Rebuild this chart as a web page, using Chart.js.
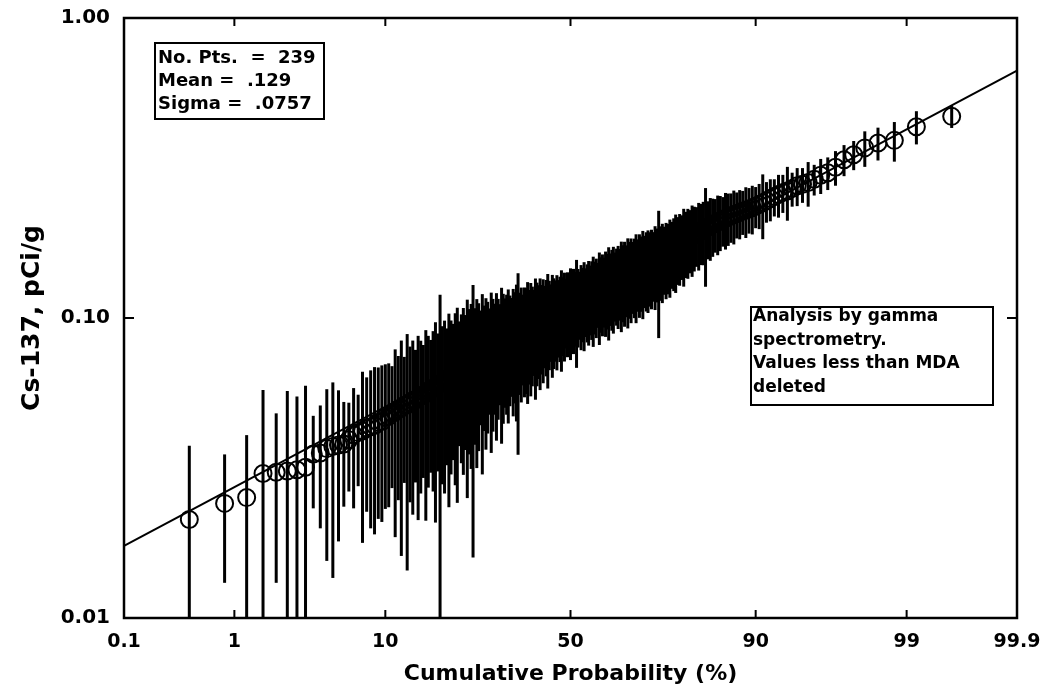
<!DOCTYPE html>
<html>
<head>
<meta charset="utf-8">
<script src="https://cdn.jsdelivr.net/npm/chart.js@4.4.1/dist/chart.umd.min.js"></script>
<style>
  html, body { margin: 0; padding: 0; background: #fff; }
  #wrap { width: 1051px; height: 693px; }
</style>
</head>
<body>
<div id="wrap"><canvas id="probChart" width="1051" height="693"></canvas></div>
<script>
// Cs-137 (pCi/g), sorted ascending, one entry per sample (rank 1..239)
const cs137Values = [
    0.0213, 0.0241, 0.0252, 0.0303, 0.0306, 0.0309, 0.0312, 0.0318, 0.0352, 0.0355,
    0.0367, 0.0373, 0.0377, 0.0380, 0.0393, 0.0408, 0.0415, 0.0420, 0.0430, 0.0434,
    0.0438, 0.0449, 0.0452, 0.0466, 0.0470, 0.0481, 0.0486, 0.0497, 0.0501, 0.0512,
    0.0514, 0.0523, 0.0531, 0.0533, 0.0542, 0.0550, 0.0553, 0.0561, 0.0572, 0.0575,
    0.0584, 0.0588, 0.0598, 0.0605, 0.0609, 0.0620, 0.0623, 0.0634, 0.0641, 0.0646,
    0.0657, 0.0662, 0.0674, 0.0678, 0.0690, 0.0693, 0.0701, 0.0711, 0.0714, 0.0724,
    0.0728, 0.0736, 0.0740, 0.0749, 0.0751, 0.0760, 0.0764, 0.0772, 0.0776, 0.0785,
    0.0788, 0.0796, 0.0800, 0.0808, 0.0812, 0.0821, 0.0824, 0.0832, 0.0836, 0.0845,
    0.0848, 0.0856, 0.0860, 0.0869, 0.0872, 0.0880, 0.0884, 0.0893, 0.0896, 0.0904,
    0.0908, 0.0917, 0.0920, 0.0928, 0.0932, 0.0941, 0.0944, 0.0952, 0.0956, 0.0965,
    0.0968, 0.0976, 0.0980, 0.0989, 0.0992, 0.1000, 0.1004, 0.1012, 0.1016, 0.1025,
    0.1029, 0.1038, 0.1043, 0.1052, 0.1057, 0.1066, 0.1071, 0.1080, 0.1085, 0.1094,
    0.1099, 0.1108, 0.1113, 0.1122, 0.1127, 0.1136, 0.1141, 0.1150, 0.1155, 0.1164,
    0.1169, 0.1179, 0.1185, 0.1195, 0.1201, 0.1211, 0.1217, 0.1227, 0.1233, 0.1243,
    0.1249, 0.1259, 0.1265, 0.1275, 0.1281, 0.1291, 0.1297, 0.1307, 0.1313, 0.1323,
    0.1329, 0.1340, 0.1347, 0.1358, 0.1365, 0.1376, 0.1383, 0.1394, 0.1401, 0.1412,
    0.1419, 0.1431, 0.1439, 0.1451, 0.1459, 0.1471, 0.1479, 0.1491, 0.1499, 0.1511,
    0.1519, 0.1533, 0.1543, 0.1557, 0.1567, 0.1581, 0.1591, 0.1605, 0.1615, 0.1629,
    0.1648, 0.1671, 0.1689, 0.1712, 0.1729, 0.1751, 0.1769, 0.1792, 0.1809, 0.1831,
    0.1849, 0.1871, 0.1889, 0.1911, 0.1929, 0.1951, 0.1969, 0.1991, 0.2009, 0.2031,
    0.2049, 0.2071, 0.2089, 0.2111, 0.2129, 0.2151, 0.2169, 0.2191, 0.2209, 0.2231,
    0.2249, 0.2272, 0.2288, 0.2311, 0.2329, 0.2362, 0.2388, 0.2421, 0.2458,
    0.250, 0.254, 0.258, 0.262, 0.265, 0.270, 0.276, 0.279, 0.283, 0.290,
    0.299, 0.305, 0.318, 0.337, 0.350, 0.369, 0.383, 0.391, 0.434, 0.470
];

// counting error (+/-) for each sample, same order
const cs137Errors = [
    0.0162, 0.0110, 0.0155, 0.0272, 0.0175, 0.0262, 0.0235, 0.0276, 0.0120, 0.0156,
    0.0212, 0.0237, 0.0197, 0.0145, 0.0129, 0.0176, 0.0140, 0.0242, 0.0204, 0.0235,
    0.0248, 0.0235, 0.0243, 0.0235, 0.0236, 0.0210, 0.0300, 0.0250, 0.0340, 0.0230,
    0.0370, 0.0280, 0.0310, 0.0250, 0.0330, 0.0290, 0.0260, 0.0350, 0.0300, 0.0270,
    0.0320, 0.0380, 0.0290, 0.0590, 0.0330, 0.0360, 0.0300, 0.0400, 0.0340, 0.0310,
    0.0380, 0.0420, 0.0300, 0.0350, 0.0390, 0.0330, 0.0450, 0.0360, 0.0400, 0.0565,
    0.0350, 0.0420, 0.0380, 0.0310, 0.0450, 0.0340, 0.0400, 0.0360, 0.0300, 0.0430,
    0.0370, 0.0320, 0.0410, 0.0350, 0.0300, 0.0440, 0.0380, 0.0330, 0.0360, 0.0400,
    0.0340, 0.0310, 0.0390, 0.0350, 0.0420, 0.0530, 0.0330, 0.0370, 0.0300, 0.0360,
    0.0350, 0.0400, 0.0320, 0.0380, 0.0340, 0.0300, 0.0410, 0.0360, 0.0330, 0.0390,
    0.0320, 0.0370, 0.0300, 0.0350, 0.0410, 0.0330, 0.0290, 0.0380, 0.0340, 0.0310,
    0.0360, 0.0300, 0.0330, 0.0390, 0.0310, 0.0350, 0.0280, 0.0340, 0.0320, 0.0370,
    0.0300, 0.0350, 0.0310, 0.0440, 0.0330, 0.0290, 0.0360, 0.0320, 0.0380, 0.0300,
    0.0340, 0.0370, 0.0310, 0.0350, 0.0400, 0.0330, 0.0360, 0.0300, 0.0420, 0.0350,
    0.0380, 0.0330, 0.0400, 0.0360, 0.0440, 0.0350, 0.0390, 0.0420, 0.0340, 0.0380,
    0.0410, 0.0360, 0.0450, 0.0390, 0.0430, 0.0370, 0.0460, 0.0400, 0.0440, 0.0380,
    0.0420, 0.0470, 0.0390, 0.0450, 0.0410, 0.0480, 0.0400, 0.0440, 0.0460, 0.0420,
    0.0450, 0.0400, 0.0480, 0.0430, 0.0710, 0.0440, 0.0470, 0.0410, 0.0460, 0.0430,
    0.0480, 0.0420, 0.0460, 0.0500, 0.0440, 0.0470, 0.0430, 0.0520, 0.0450, 0.0480,
    0.0440, 0.0500, 0.0460, 0.0430, 0.0490, 0.0450, 0.0470, 0.0720, 0.0440, 0.0480,
    0.0450, 0.0420, 0.0470, 0.0440, 0.0400, 0.0460, 0.0430, 0.0410, 0.0450, 0.0390,
    0.0420, 0.0380, 0.0440, 0.0400, 0.0430, 0.0370, 0.0410, 0.0590, 0.0380, 0.0400,
    0.0360, 0.0420, 0.0380, 0.0540, 0.0350, 0.0400, 0.0370, 0.0480, 0.0340, 0.0400,
    0.0380, 0.0420, 0.0400, 0.0390, 0.0500, 0.0480, 0.0590, 0.0550, 0.0400
];

const probTicks = [0.1, 1, 10, 50, 90, 99, 99.9];
const probTickLabels = ['0.1', '1', '10', '50', '90', '99', '99.9'];
const concTicks = [0.01, 0.1, 1];
const concTickLabels = ['0.01', '0.10', '1.00'];

// lognormal fit line, ends of the axis
const fitProbs = [0.1, 99.9];
const fitValues = [0.0174, 0.668];

const statsLines = ['No. Pts.  =  239', 'Mean =  .129', 'Sigma =  .0757'];
const noteLines = ['Analysis by gamma', 'spectrometry.', 'Values less than MDA', 'deleted'];

const FONT = "'DejaVu Sans', 'Liberation Sans', sans-serif";

// inverse normal CDF (Acklam) - used for the probability axis
function probit(p) {
    const a = [-39.69683028665376, 220.9460984245205, -275.9285104469687, 138.3577518672690, -30.66479806614716, 2.506628277459239];
    const b = [-54.47609879822406, 161.5858368580409, -155.6989798598866, 66.80131188771972, -13.28068155288572];
    const c = [-0.007784894002430293, -0.3223964580411365, -2.400758277161838, -2.549732539343734, 4.374664141464968, 2.938163982698783];
    const d = [0.007784695709041462, 0.3224671290700398, 2.445134137142996, 3.754408661907416];
    const pl = 0.02425;
    let q, r;
    if (p < pl) {
        q = Math.sqrt(-2 * Math.log(p));
        return (((((c[0] * q + c[1]) * q + c[2]) * q + c[3]) * q + c[4]) * q + c[5]) / ((((d[0] * q + d[1]) * q + d[2]) * q + d[3]) * q + 1);
    }
    if (p > 1 - pl) {
        q = Math.sqrt(-2 * Math.log(1 - p));
        return -(((((c[0] * q + c[1]) * q + c[2]) * q + c[3]) * q + c[4]) * q + c[5]) / ((((d[0] * q + d[1]) * q + d[2]) * q + d[3]) * q + 1);
    }
    q = p - 0.5;
    r = q * q;
    return (((((a[0] * r + a[1]) * r + a[2]) * r + a[3]) * r + a[4]) * r + a[5]) * q / (((((b[0] * r + b[1]) * r + b[2]) * r + b[3]) * r + b[4]) * r + 1);
}

// plotting position i/(n+1) for the ranked samples
const nPts = cs137Values.length;
const samplePoints = cs137Values.map((v, i) => ({ x: probit((i + 1) / (nPts + 1)), y: v, err: cs137Errors[i] }));
const fitPoints = fitProbs.map((p, i) => ({ x: probit(p / 100), y: fitValues[i] }));

// vertical error bars, drawn under the circles
const errorBars = {
    id: 'errorBars',
    beforeDatasetsDraw(chart) {
        const { ctx, chartArea: a, scales: { x, y } } = chart;
        ctx.save();
        ctx.beginPath();
        ctx.rect(a.left, a.top, a.right - a.left, a.bottom - a.top);
        ctx.clip();
        ctx.strokeStyle = '#000';
        ctx.lineWidth = 3;
        samplePoints.forEach(pt => {
            const px = x.getPixelForValue(pt.x);
            const lo = pt.y - pt.err;
            const yTop = y.getPixelForValue(pt.y + pt.err);
            const yBot = lo > 0 ? y.getPixelForValue(lo) : a.bottom + 4;
            ctx.beginPath();
            ctx.moveTo(px, yTop);
            ctx.lineTo(px, yBot);
            ctx.stroke();
        });
        ctx.restore();
    }
};

// frame, inward ticks and the two text boxes
const frameAndNotes = {
    id: 'frameAndNotes',
    afterDraw(chart) {
        const { ctx, chartArea: a, scales: { x, y } } = chart;
        ctx.save();
        ctx.strokeStyle = '#000';
        ctx.lineWidth = 2.5;
        ctx.strokeRect(a.left, a.top, a.right - a.left, a.bottom - a.top);

        ctx.lineWidth = 2;
        probTicks.slice(1, -1).forEach(p => {
            const px = x.getPixelForValue(probit(p / 100));
            ctx.beginPath();
            ctx.moveTo(px, a.bottom); ctx.lineTo(px, a.bottom - 8);
            ctx.moveTo(px, a.top); ctx.lineTo(px, a.top + 8);
            ctx.stroke();
        });
        concTicks.slice(1, -1).forEach(v => {
            const py = y.getPixelForValue(v);
            ctx.beginPath();
            ctx.moveTo(a.left, py); ctx.lineTo(a.left + 10, py);
            ctx.moveTo(a.right, py); ctx.lineTo(a.right - 10, py);
            ctx.stroke();
        });

        ctx.textBaseline = 'middle';
        ctx.textAlign = 'left';

        // statistics box
        ctx.fillStyle = '#fff';
        ctx.fillRect(155, 43, 169, 76);
        ctx.strokeRect(155, 43, 169, 76);
        ctx.fillStyle = '#000';
        ctx.font = 'bold 18px ' + FONT;
        statsLines.forEach((t, i) => ctx.fillText(t, 158, 58 + i * 23));

        // analysis note
        ctx.fillStyle = '#fff';
        ctx.fillRect(751, 307, 242, 98);
        ctx.strokeRect(751, 307, 242, 98);
        ctx.fillStyle = '#000';
        ctx.font = 'bold 17px ' + FONT;
        noteLines.forEach((t, i) => ctx.fillText(t, 753, 317 + i * 23.5));
        ctx.restore();
    }
};

new Chart(document.getElementById('probChart'), {
    type: 'scatter',
    data: {
        datasets: [
            {
                label: 'Fit',
                type: 'line',
                data: fitPoints,
                borderColor: '#000',
                borderWidth: 2,
                pointRadius: 0,
                fill: false,
                tension: 0
            },
            {
                label: 'Cs-137',
                data: samplePoints,
                pointStyle: 'circle',
                pointRadius: 8.5,
                borderColor: '#000',
                backgroundColor: 'rgba(0,0,0,0)',
                borderWidth: 2
            }
        ]
    },
    options: {
        responsive: false,
        animation: false,
        layout: { padding: { top: 0, right: 34, bottom: 0, left: 0 } },
        plugins: {
            legend: { display: false },
            tooltip: { enabled: false }
        },
        scales: {
            x: {
                type: 'linear',
                min: probit(0.001),
                max: probit(0.999),
                grid: { display: false },
                border: { display: false },
                afterBuildTicks: s => { s.ticks = probTicks.map(p => ({ value: probit(p / 100) })); },
                afterFit: s => { s.height = 75; },
                ticks: {
                    autoSkip: false,
                    maxRotation: 0,
                    padding: 5,
                    color: '#000',
                    font: { family: FONT, size: 19, weight: 'bold' },
                    callback: (v, i) => probTickLabels[i]
                },
                title: {
                    display: true,
                    text: 'Cumulative Probability (%)',
                    color: '#000',
                    font: { family: FONT, size: 22, weight: 'bold' },
                    padding: { top: 0, bottom: 6 }
                }
            },
            y: {
                type: 'logarithmic',
                min: 0.01,
                max: 1,
                grid: { display: false },
                border: { display: false },
                afterBuildTicks: s => { s.ticks = concTicks.map(v => ({ value: v })); },
                afterFit: s => { s.width = 124; },
                ticks: {
                    padding: 6,
                    color: '#000',
                    font: { family: FONT, size: 20, weight: 'bold' },
                    callback: (v, i) => concTickLabels[i]
                },
                title: {
                    display: true,
                    text: 'Cs-137, pCi/g',
                    color: '#000',
                    font: { family: FONT, size: 25, weight: 'bold' },
                    padding: { top: 17, bottom: 0 }
                }
            }
        }
    },
    plugins: [errorBars, frameAndNotes]
});
</script>
</body>
</html>
